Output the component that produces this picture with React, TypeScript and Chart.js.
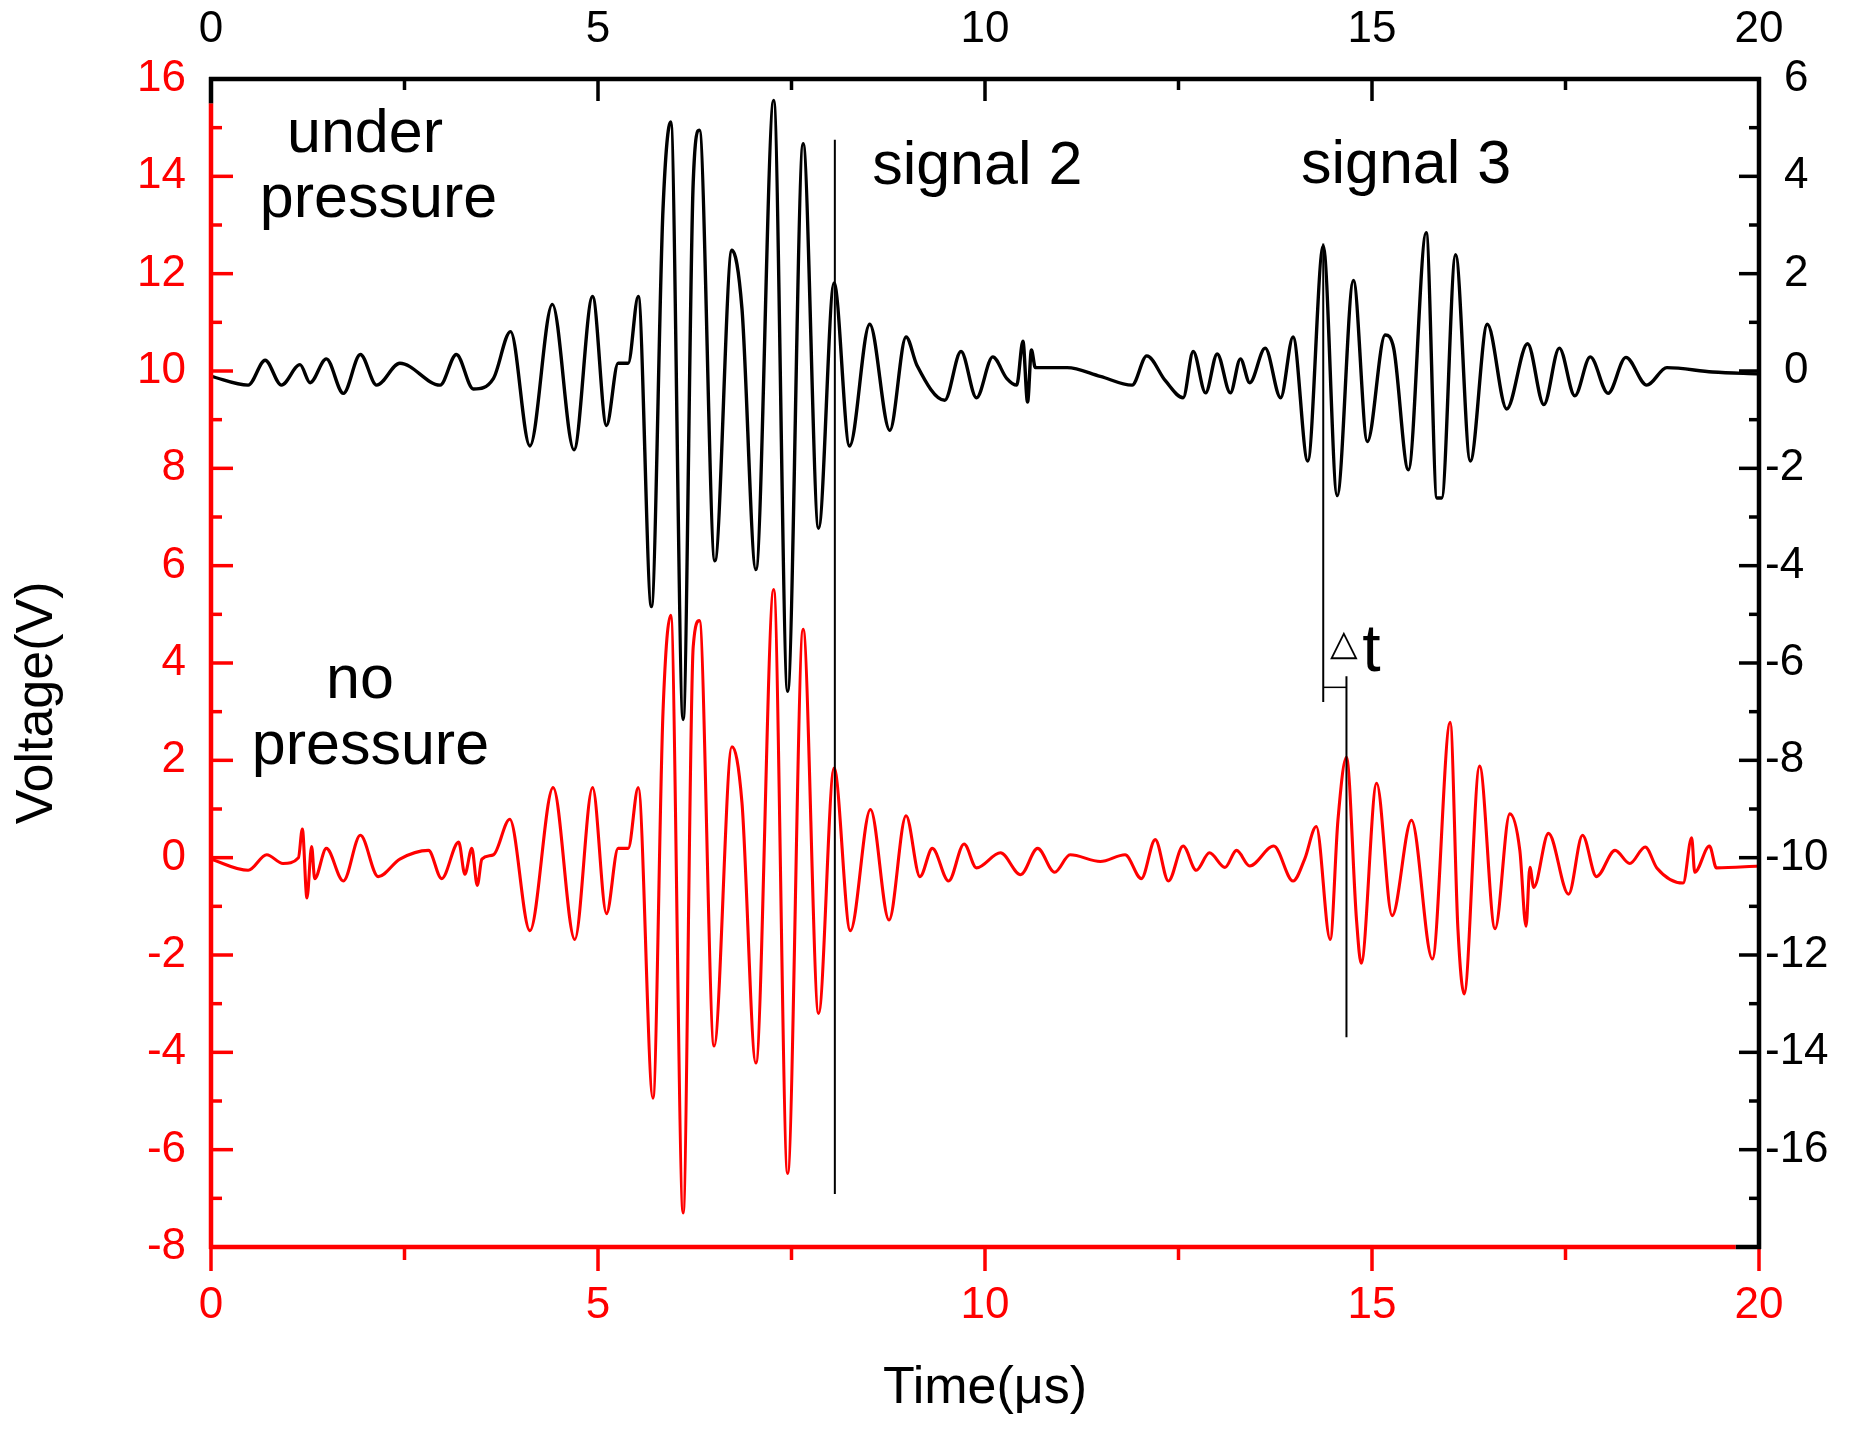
import React, { useEffect, useRef } from 'react';
import { Chart, registerables } from 'chart.js';

Chart.register(...registerables);

// ---------------- data ----------------
// Time axis (µs)
const X_TICKS = [0, 5, 10, 15, 20];
const LEFT_TICKS = [-8, -6, -4, -2, 0, 2, 4, 6, 8, 10, 12, 14, 16];
const RIGHT_TICKS = [-18, -16, -14, -12, -10, -8, -6, -4, -2, 0, 2, 4, 6];
const RIGHT_LABELS = [-16, -14, -12, -10, -8, -6, -4, -2, 0, 2, 4, 6];

// "under pressure" trace (black, right axis, V)
const UNDER_T = [
  0.0, 0.48, 0.7, 0.91, 1.15, 1.28, 1.49, 1.71, 1.93, 2.14, 2.44, 2.96, 3.17, 3.39, 3.65,
  3.87, 4.12, 4.41, 4.69, 4.93, 5.11, 5.26, 5.39, 5.52, 5.69, 5.84, 5.94, 6.1, 6.23, 6.31,
  6.51, 6.73, 6.86, 7.04, 7.27, 7.45, 7.65, 7.85, 8.05, 8.25, 8.51, 8.77, 8.98, 9.12, 9.48,
  9.69, 9.89, 10.1, 10.28, 10.41, 10.49, 10.55, 10.6, 10.65, 11.06, 11.49, 11.9, 12.09, 12.33,
  12.56, 12.69, 12.85, 13.0, 13.17, 13.3, 13.42, 13.62, 13.82, 13.98, 14.17, 14.37, 14.55,
  14.76, 14.94, 15.17, 15.28, 15.47, 15.7, 15.84, 15.9, 16.08, 16.27, 16.49, 16.74, 17.01,
  17.22, 17.42, 17.62, 17.82, 18.05, 18.28, 18.55, 18.81, 19.4, 20.0,
];
const UNDER_V = [
  -0.11, -0.29, 0.22, -0.29, 0.13, -0.24, 0.25, -0.46, 0.34, -0.29, 0.16, -0.29, 0.34, -0.37, -0.15,
  0.81, -1.54, 1.37, -1.62, 1.53, -1.12, 0.16, 0.16, 1.53, -4.84, 3.33, 5.12, -7.16, 3.87, 4.95,
  -3.9, 2.48, 1.28, -4.08, 5.56, -6.58, 4.67, -3.23, 1.81, -1.54, 0.96, -1.22, 0.7, 0.12, -0.6,
  0.4, -0.55, 0.29, -0.15, -0.29, 0.61, -0.64, 0.43, 0.07, 0.07, -0.11, -0.29, 0.31, -0.2,
  -0.55, 0.4, -0.45, 0.35, -0.45, 0.25, -0.24, 0.47, -0.55, 0.7, -1.85, 2.57, -2.56,
  1.86, -1.45, 0.74, 0.47, -2.03, 2.84, -2.61, -2.61, 2.39, -1.85, 0.96, -0.78, 0.56,
  -0.69, 0.47, -0.51, 0.29, -0.46, 0.28, -0.29, 0.07, -0.02, -0.06,
];

// "no pressure" trace (red, left axis, V)
const NO_T = [
  0.0, 0.48, 0.72, 0.93, 1.13, 1.18, 1.24, 1.3, 1.34, 1.49, 1.71, 1.93, 2.16, 2.44, 2.81,
  2.98, 3.2, 3.28, 3.37, 3.44, 3.5, 3.65, 3.86, 4.12, 4.42, 4.7, 4.93, 5.11, 5.26, 5.39,
  5.52, 5.71, 5.84, 5.94, 6.1, 6.23, 6.31, 6.5, 6.73, 6.86, 7.04, 7.27, 7.45, 7.65, 7.85,
  8.05, 8.26, 8.52, 8.76, 8.98, 9.16, 9.32, 9.53, 9.73, 9.89, 10.2, 10.46, 10.68, 10.9,
  11.1, 11.49, 11.81, 12.02, 12.2, 12.37, 12.56, 12.73, 12.9, 13.1, 13.25, 13.42, 13.73,
  13.98, 14.13, 14.28, 14.46, 14.56, 14.67, 14.8, 14.86, 15.06, 15.26, 15.51, 15.78, 16.01,
  16.11, 16.19, 16.39, 16.59, 16.78, 16.91, 16.99, 17.04, 17.09, 17.28, 17.54, 17.72, 17.9,
  18.14, 18.33, 18.53, 18.68, 19.02, 19.13, 19.17, 19.36, 19.45, 20.0,
];
const NO_V = [
  -0.03, -0.26, 0.06, -0.12, 0.0, 0.59, -0.83, 0.23, -0.43, 0.19, -0.48, 0.46, -0.39, -0.03, 0.15,
  -0.43, 0.32, -0.34, 0.19, -0.57, -0.03, 0.06, 0.79, -1.5, 1.44, -1.68, 1.44, -1.15, 0.19, 0.19,
  1.44, -4.94, 3.0, 4.98, -7.3, 4.33, 4.87, -3.87, 2.28, 1.13, -4.22, 5.51, -6.49, 4.69, -3.2,
  1.84, -1.5, 0.99, -1.28, 0.86, -0.39, 0.19, -0.48, 0.28, -0.21, 0.1, -0.35, 0.19, -0.3,
  0.06, -0.08, 0.06, -0.43, 0.37, -0.48, 0.24, -0.26, 0.1, -0.2, 0.15, -0.17, 0.24,
  -0.48, -0.03, 0.64, -1.68, 0.77, 2.06, -1.28, -2.17, 1.53, -1.19, 0.77, -2.08, 2.78,
  -1.46, -2.8, 1.88, -1.46, 0.9, 0.15, -1.41, -0.2, -0.61, 0.5, -0.75, 0.46, -0.39,
  0.15, -0.12, 0.22, -0.21, -0.52, 0.41, -0.3, 0.24, -0.21, -0.17,
];

// marker lines (time µs, left-axis volts)
const SIGNAL2_T = [8.06, 8.06];
const SIGNAL2_V = [-6.91, 14.75];
const DT_A_T = [14.37, 14.37];
const DT_A_V = [3.2, 12.62];
const DT_BAR_T = [14.37, 14.67];
const DT_BAR_V = [3.5, 3.5];
const DT_B_T = [14.67, 14.67];
const DT_B_V = [-3.69, 3.73];

// ---------------- layout / style ----------------
const W = 1857;
const H = 1437;
const RED = '#ff0000';
const FONT = '"Liberation Sans", Arial, Helvetica, sans-serif';

const NOTES = [
  { text: 'under', t: 1.99, v: 14.5 },
  { text: 'pressure', t: 2.164, v: 13.165 },
  { text: 'no', t: 1.925, v: 3.28 },
  { text: 'pressure', t: 2.06, v: 1.93 },
  { text: 'signal 2', t: 9.9, v: 13.84 },
  { text: 'signal 3', t: 15.44, v: 13.86 },
];

const pts = (xs: number[], ys: number[]) => xs.map((x, i) => ({ x, y: ys[i] }));

const framePlugin = {
  id: 'frame',
  afterDraw(chart: any) {
    const { ctx, chartArea: a, scales } = chart;
    const xs = scales.x;
    const ys = scales.y;
    const y2 = scales.y2;
    const seg = (x1: number, y1: number, x2: number, yy2: number, color: string, w: number) => {
      ctx.beginPath();
      ctx.strokeStyle = color;
      ctx.lineWidth = w;
      ctx.moveTo(x1, y1);
      ctx.lineTo(x2, yy2);
      ctx.stroke();
    };
    ctx.save();
    ctx.lineCap = 'butt';

    // left ticks (inward), every 1 V
    for (let v = LEFT_TICKS[0]; v <= LEFT_TICKS[LEFT_TICKS.length - 1]; v += 1) {
      const p = ys.getPixelForValue(v);
      const len = v % 2 === 0 ? 22 : 11;
      seg(a.left, p, a.left + len, p, RED, 3.5);
    }
    // right ticks (inward)
    for (let v = RIGHT_TICKS[0]; v <= RIGHT_TICKS[RIGHT_TICKS.length - 1]; v += 1) {
      const p = y2.getPixelForValue(v);
      const len = v % 2 === 0 ? 20 : 10;
      seg(a.right - len, p, a.right, p, '#000', 3.5);
    }
    // top ticks (inward) and bottom ticks (outward), every 2.5 µs
    for (let t = X_TICKS[0]; t <= X_TICKS[X_TICKS.length - 1] + 1e-9; t += 2.5) {
      const p = xs.getPixelForValue(t);
      const major = Math.abs(t % 5) < 1e-6;
      seg(p, a.top, p, a.top + (major ? 22 : 11), '#000', 3.5);
      seg(p, a.bottom, p, a.bottom + (major ? 24 : 13), RED, 3.5);
    }

    // frame
    const lw = 4.5;
    seg(a.left - 2, a.top, a.right + 2, a.top, '#000', lw);
    seg(a.right, a.top - 2, a.right, a.bottom + 2, '#000', lw);
    const yRedTop = ys.getPixelForValue(15.5);
    seg(a.left, a.bottom + 2, a.left, yRedTop, RED, lw);
    seg(a.left, yRedTop, a.left, a.top - 2, '#000', lw);
    const xRedEnd = xs.getPixelForValue(19.7);
    seg(a.left - 2, a.bottom, xRedEnd, a.bottom, RED, lw);
    seg(xRedEnd, a.bottom, a.right + 2, a.bottom, '#000', lw);

    // right axis labels (minus sign hangs left of the digits)
    ctx.fillStyle = '#000';
    ctx.font = `44px ${FONT}`;
    ctx.textBaseline = 'middle';
    ctx.textAlign = 'left';
    RIGHT_LABELS.forEach((v) => {
      const p = y2.getPixelForValue(v);
      ctx.fillText(String(v), v < 0 ? a.right + 6 : a.right + 25, p);
    });

    // annotation texts
    ctx.font = `61px ${FONT}`;
    ctx.textAlign = 'center';
    ctx.textBaseline = 'alphabetic';
    NOTES.forEach((n) => {
      ctx.fillText(n.text, xs.getPixelForValue(n.t), ys.getPixelForValue(n.v));
    });

    // delta t
    ctx.textAlign = 'left';
    ctx.font = '36px "DejaVu Sans", sans-serif';
    ctx.fillText('△', xs.getPixelForValue(14.457), ys.getPixelForValue(4.165));
    ctx.font = `66px ${FONT}`;
    ctx.fillText('t', xs.getPixelForValue(14.875), ys.getPixelForValue(3.84));

    // y axis title
    ctx.save();
    ctx.translate(a.left - 159, ys.getPixelForValue(3.18));
    ctx.rotate(-Math.PI / 2);
    ctx.font = `52px ${FONT}`;
    ctx.textAlign = 'center';
    ctx.textBaseline = 'alphabetic';
    ctx.fillText('Voltage(V)', 0, 0);
    ctx.restore();

    ctx.restore();
  },
};

export default function App() {
  const ref = useRef<HTMLCanvasElement | null>(null);

  useEffect(() => {
    document.body.style.margin = '0';
    document.body.style.overflow = 'hidden';
    const canvas = ref.current;
    if (!canvas) return;
    Chart.defaults.font.family = FONT;
    Chart.defaults.color = '#000';

    const markerStyle = {
      borderColor: '#000',
      borderWidth: 2,
      pointRadius: 0,
      tension: 0,
      fill: false,
      yAxisID: 'y',
      xAxisID: 'x',
    };

    const chart = new Chart(canvas, {
      type: 'line',
      data: {
        datasets: [
          { ...markerStyle, label: 'signal 2', data: pts(SIGNAL2_T, SIGNAL2_V) },
          { ...markerStyle, label: 'dt a', data: pts(DT_A_T, DT_A_V) },
          { ...markerStyle, label: 'dt bar', data: pts(DT_BAR_T, DT_BAR_V), borderWidth: 1.5 },
          { ...markerStyle, label: 'dt b', data: pts(DT_B_T, DT_B_V) },
          {
            label: 'under pressure',
            data: pts(UNDER_T, UNDER_V),
            borderColor: '#000',
            borderWidth: 3.4,
            pointRadius: 0,
            cubicInterpolationMode: 'monotone',
            fill: false,
            xAxisID: 'x',
            yAxisID: 'y2',
          },
          {
            label: 'no pressure',
            data: pts(NO_T, NO_V),
            borderColor: RED,
            borderWidth: 3.1,
            pointRadius: 0,
            cubicInterpolationMode: 'monotone',
            fill: false,
            xAxisID: 'x',
            yAxisID: 'y',
          },
        ],
      },
      options: {
        animation: false,
        responsive: false,
        devicePixelRatio: 1,
        events: [],
        layout: { padding: 0 },
        plugins: { legend: { display: false }, tooltip: { enabled: false } },
        scales: {
          x: {
            type: 'linear',
            position: 'bottom',
            min: 0,
            max: 20,
            afterBuildTicks: (s: any) => {
              s.ticks = X_TICKS.map((value) => ({ value }));
            },
            ticks: { color: RED, font: { size: 44, lineHeight: 1.2 }, padding: 32, maxRotation: 0, autoSkip: false },
            grid: { display: false, drawTicks: false },
            border: { display: false },
            title: {
              display: true,
              text: 'Time(μs)',
              color: '#000',
              font: { size: 52, lineHeight: 1.2 },
              padding: { top: 0, bottom: 17 },
            },
            afterFit: (s: any) => {
              s.height = 190;
            },
          },
          x2: {
            type: 'linear',
            position: 'top',
            min: 0,
            max: 20,
            afterBuildTicks: (s: any) => {
              s.ticks = X_TICKS.map((value) => ({ value }));
            },
            ticks: { color: '#000', font: { size: 44, lineHeight: 1.2 }, padding: 23, maxRotation: 0, autoSkip: false },
            grid: { display: false, drawTicks: false },
            border: { display: false },
            afterFit: (s: any) => {
              s.height = 79;
            },
          },
          y: {
            type: 'linear',
            position: 'left',
            min: -8,
            max: 16,
            afterBuildTicks: (s: any) => {
              s.ticks = LEFT_TICKS.map((value) => ({ value }));
            },
            ticks: { color: RED, font: { size: 44, lineHeight: 1.2 }, padding: 25, autoSkip: false },
            grid: { display: false, drawTicks: false },
            border: { display: false },
            afterFit: (s: any) => {
              s.width = 211;
            },
          },
          y2: {
            type: 'linear',
            position: 'right',
            min: -18,
            max: 6,
            afterBuildTicks: (s: any) => {
              s.ticks = RIGHT_TICKS.map((value) => ({ value }));
            },
            ticks: { display: false },
            grid: { display: false, drawTicks: false },
            border: { display: false },
            afterFit: (s: any) => {
              s.width = 98;
            },
          },
        },
      } as any,
      plugins: [framePlugin],
    });

    return () => {
      chart.destroy();
    };
  }, []);

  return (
    <div style={{ position: 'absolute', left: 0, top: 0, width: W, height: H, background: '#fff' }}>
      <canvas ref={ref} width={W} height={H} style={{ display: 'block', width: W, height: H }} />
    </div>
  );
}
